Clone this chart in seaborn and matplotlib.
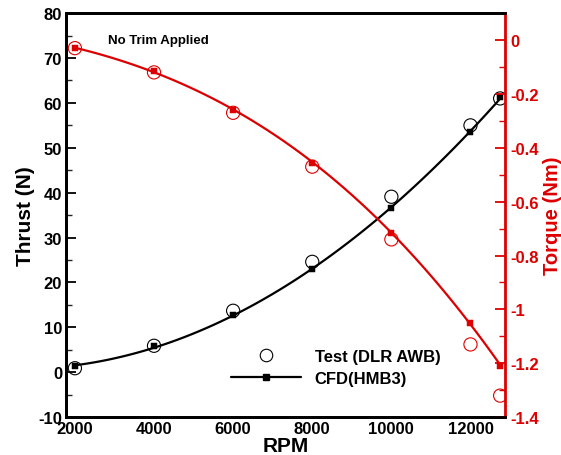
import matplotlib
matplotlib.use("Agg")
import matplotlib.pyplot as plt
import seaborn as sns
import pandas as pd
from matplotlib.lines import Line2D
from matplotlib.ticker import MultipleLocator, FuncFormatter

sns.set_style("white")
plt.rcParams['font.family'] = ['Liberation Sans', 'DejaVu Sans']
plt.rcParams['font.weight'] = 'bold'
plt.rcParams['axes.unicode_minus'] = False
plt.rcParams['text.color'] = 'black'
plt.rcParams['axes.labelcolor'] = 'black'

rpm = [2000, 4000, 6000, 8000, 10000, 12000, 12750]
thrust_test = [0.9, 5.9, 13.7, 24.6, 39.1, 55.0, 61.0]
thrust_cfd = [1.3, 5.8, 12.8, 23.0, 36.5, 53.5, 61.3]
torque_test = [-0.03, -0.12, -0.27, -0.47, -0.74, -1.13, -1.32]
torque_cfd = [-0.03, -0.115, -0.26, -0.455, -0.715, -1.05, -1.21]

df = pd.DataFrame({"rpm": rpm, "thrust_test": thrust_test, "thrust_cfd": thrust_cfd,
                   "torque_test": torque_test, "torque_cfd": torque_cfd})

RED = "#dd0000"
fig = plt.figure(figsize=(5.61, 4.56), dpi=100)
ax = fig.add_axes([0.118, 0.083, 0.782, 0.886])
ax2 = ax.twinx()

# thrust
sns.regplot(data=df, x="rpm", y="thrust_cfd", order=2, ci=None, scatter=False,
            line_kws=dict(color="black", lw=1.6), ax=ax)
sns.scatterplot(data=df, x="rpm", y="thrust_cfd", marker="s", s=18, color="black",
                edgecolor="black", ax=ax, zorder=4)
sns.scatterplot(data=df, x="rpm", y="thrust_test", marker="o", s=90, facecolor="none",
                edgecolor="black", linewidth=0.8, ax=ax, zorder=5)

# torque
sns.regplot(data=df, x="rpm", y="torque_cfd", order=3, ci=None, scatter=False,
            line_kws=dict(color=RED, lw=1.6), ax=ax2)
sns.scatterplot(data=df, x="rpm", y="torque_cfd", marker="s", s=18, color=RED,
                edgecolor=RED, ax=ax2, zorder=4)
sns.scatterplot(data=df, x="rpm", y="torque_test", marker="o", s=90, facecolor="none",
                edgecolor=RED, linewidth=0.8, ax=ax2, zorder=5)

ax.set_xlim(1780, 12870)
ax.set_ylim(-10, 80)
ax2.set_ylim(-1.4, 0.1)

ax.xaxis.set_major_locator(MultipleLocator(2000))
ax.xaxis.set_minor_locator(MultipleLocator(1000))
ax.yaxis.set_major_locator(MultipleLocator(10))
ax.yaxis.set_minor_locator(MultipleLocator(5))
ax2.yaxis.set_major_locator(MultipleLocator(0.2))
ax2.yaxis.set_minor_locator(MultipleLocator(0.1))

ax.tick_params(axis="both", which="major", direction="in", length=7, width=1.3,
               labelsize=12, colors="black", labelcolor="black", top=False, pad=3)
ax.tick_params(axis="both", which="minor", direction="in", length=4, width=1)
ax2.tick_params(axis="y", which="major", direction="in", length=7, width=1.3,
                labelsize=12, colors=RED, pad=4)
ax2.tick_params(axis="y", which="minor", direction="in", length=4, width=1, colors=RED)

ax2.yaxis.set_major_formatter(FuncFormatter(
    lambda v, p: "0" if abs(v) < 1e-9 else "%g" % round(v, 1)))

for lab in ax.get_xticklabels() + ax.get_yticklabels() + ax2.get_yticklabels():
    lab.set_fontweight("bold")

ax.set_xlabel("RPM", fontsize=15, fontweight="bold", labelpad=0)
ax.set_ylabel("Thrust (N)", fontsize=15, fontweight="bold", labelpad=2)
ax2.set_ylabel("Torque (Nm)", fontsize=14.5, fontweight="bold", color=RED, labelpad=3)

for s in ["left", "bottom", "top"]:
    ax.spines[s].set_color("black")
    ax.spines[s].set_linewidth(2)
    ax2.spines[s].set_linewidth(2)
    ax2.spines[s].set_color("black")
ax2.spines["right"].set_color(RED)
ax2.spines["right"].set_linewidth(2)
ax.spines["right"].set_visible(False)

ax.text(0.095, 0.933, "No Trim Applied", transform=ax.transAxes, fontsize=9.5,
        fontweight="bold", va="center", ha="left", color="black")

handles = [Line2D([], [], marker="o", ls="none", mfc="none", mec="black", ms=9, mew=0.8),
           Line2D([], [], marker="s", color="black", lw=1.6, ms=4)]
ax2.legend(handles, ["Test (DLR AWB)", "CFD(HMB3)"], loc="lower left",
           bbox_to_anchor=(0.342, 0.04), frameon=False,
           handlelength=4.2, handletextpad=0.8, labelspacing=0.4,
           prop=dict(weight="bold", size=12))

fig.savefig("out.png", dpi=100)
